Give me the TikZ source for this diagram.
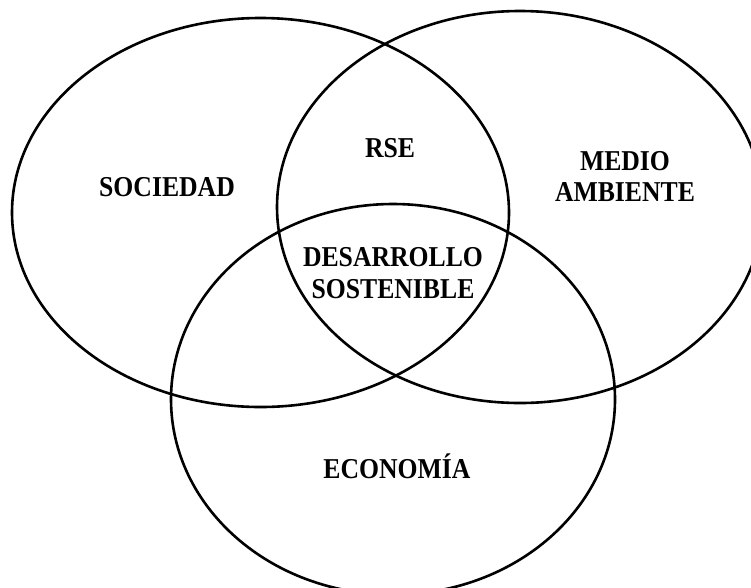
\documentclass[tikz,border=0pt]{standalone}
\usepackage{fontspec}
\setmainfont{Liberation Serif}
\newcommand{\tall}[1]{\scalebox{1}[1.12]{\begin{tabular}[t]{@{}c@{}}#1\end{tabular}}}
\begin{document}
\begin{tikzpicture}[x=1pt,y=-1pt,
  ring/.style={draw=black,line width=2.6pt},
  lbl/.style={inner sep=0pt,anchor=base,font=\bfseries\fontsize{25.7}{28.3}\selectfont}]
\useasboundingbox (0,0) rectangle (751,587);
\clip (0,0) rectangle (751,587);
\draw[ring] (260.5,212.5) ellipse [x radius=248.5, y radius=194.5];
\draw[ring] (520,207) ellipse [x radius=243, y radius=196];
\draw[ring] (393,399.3) ellipse [x radius=222, y radius=195.3];
\node[lbl] (rse) at (390,157) {\tall{RSE}};
\node[lbl] (soc) at (167,196) {\tall{SOCIEDAD}};
\node[lbl] (med) at (625,170) {\tall{MEDIO\\AMBIENTE}};
\node[lbl] (des) at (393,266.5) {\tall{DESARROLLO\\SOSTENIBLE}};
\node[lbl] (eco) at (397,478) {\tall{ECONOMÍA}};
\end{tikzpicture}
\end{document}
